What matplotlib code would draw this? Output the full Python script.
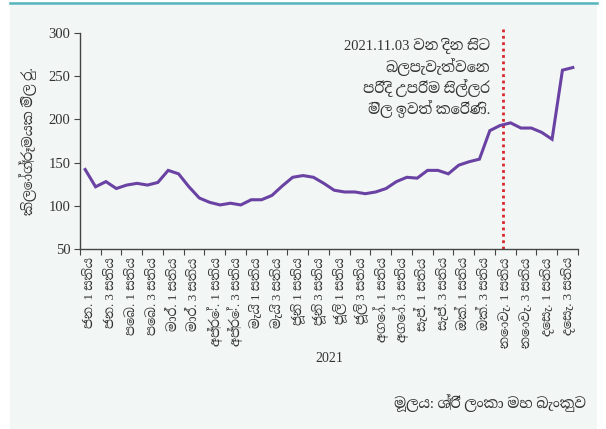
import numpy as np
import matplotlib
matplotlib.use('Agg')
import matplotlib.pyplot as plt
from matplotlib.patches import Rectangle
from matplotlib.lines import Line2D

# %% Data (weekly retail price, Rs. per kg, 2021)
months = ['ජන.', 'පෙබ.', 'මාර්.', 'අප්‍රේ.', 'මැයි', 'ජූනි',
          'ජූලි', 'අගෝ.', 'සැප්.', 'ඔක්.', 'නොවැ.', 'දෙසැ.']
weeks = ['1', '3']
xlabels = [f'{m} {w} සතිය' for m in months for w in weeks]

price = [142, 122, 128, 120, 124, 126, 124, 127, 141, 137, 122, 109,
         104, 101, 103, 101, 107, 107, 112, 123, 133, 135, 133, 126,
         118, 116, 116, 114, 116, 120, 128, 133, 132, 141, 141, 137,
         147, 151, 154, 187, 193, 196, 190, 190, 185, 177, 257, 260]

event_week = 40.3
note = '2021.11.03 වන දින සිට\nබලපැවැත්වෙන\nපරිදි උපරිම සිල්ලර\nමිල ඉවත් කෙරිණි.'
ylab = 'කිලෝග්‍රෑමයක මිල රු.'
source = 'මූලය: ශ්‍රී ලංකා මහ බැංකුව'

# %% Style
plt.rcParams['font.family'] = ['Liberation Serif', 'Noto Serif Sinhala']
W, H = 606, 429
fig = plt.figure(figsize=(W/100, H/100), dpi=100)
fig.patch.set_facecolor('white')

bg = '#F2F6F5'
fig.add_artist(Rectangle((10/W, 0), 587/W, 1-2/H, transform=fig.transFigure,
                         facecolor=bg, edgecolor='none', zorder=-5))
fig.add_artist(Line2D([10/W, 597/W], [1-3/H, 1-3/H], transform=fig.transFigure,
                      color='#55B4BE', lw=1.8))

ax = fig.add_axes([80/W, 1-249/H, (578-80)/W, (249-33)/H])
ax.set_facecolor(bg)

x = np.arange(len(price))
ax.plot(x, price, color='#6A42A3', lw=2.2, solid_joinstyle='miter', zorder=3)

ax.axvline(event_week, ymin=0, ymax=1.03, color='#D7262C', lw=2.0,
           linestyle=(0, (1, 1.3)), clip_on=False, zorder=2)

ax.set_xlim(-0.5, len(price)-0.5)
ax.set_ylim(50, 300)
ax.set_yticks([50, 100, 150, 200, 250, 300])

ax.set_xticks(np.arange(-0.5, len(price), 2))
ax.set_xticklabels([])
ax.set_xticks(np.arange(0.5, len(price), 2), minor=True)
ax.set_xticklabels(xlabels, minor=True, rotation=90, fontsize=9.3,
                   color='#333333')
ax.tick_params(axis='x', which='minor', length=0, pad=6)
ax.tick_params(axis='x', which='major', length=4, direction='out',
               color='#444444')
ax.tick_params(axis='y', length=4, direction='out', color='#444444',
               labelsize=10.5, labelcolor='#333333', pad=3)

for s in ['top', 'right']:
    ax.spines[s].set_visible(False)
for s in ['left', 'bottom']:
    ax.spines[s].set_color('#444444')
    ax.spines[s].set_linewidth(1.0)

ax.set_ylabel(ylab, fontsize=10, color='#333333', labelpad=8)

fig.text(329/W, 1-358/H, '2021', ha='center', va='center', fontsize=10,
         color='#333333')
fig.text(490/W, 1-38/H, note, ha='right', va='top', fontsize=10.5,
         color='#333333', linespacing=1.25)
fig.text(586/W, 1-403/H, source, ha='right', va='center', fontsize=10.5,
         color='#333333')

fig.savefig('out.png', dpi=100, facecolor=fig.get_facecolor())
